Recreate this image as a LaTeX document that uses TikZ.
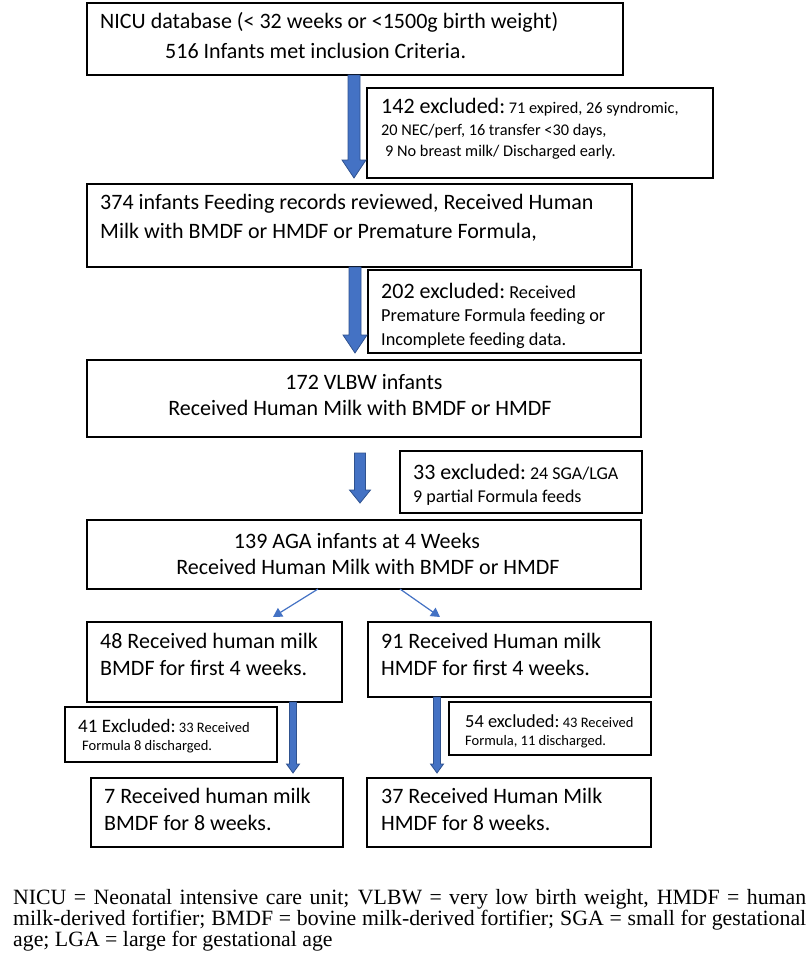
\documentclass[tikz,border=0pt]{standalone}
\usepackage{fontspec}
\setmainfont{Carlito}
\newfontfamily\tnr{Liberation Serif}
\usetikzlibrary{calc,arrows.meta}
\definecolor{arrowfill}{HTML}{4472C4}
\definecolor{arrowedge}{HTML}{2F528F}
\newcommand\fs[1]{\fontsize{#1}{#1}\selectfont}
\newcommand\fatarr[5]{%
  \draw[fill=arrowfill, draw=arrowedge, line width=0.8pt, line join=miter]
    ($(#1)+(-#3,0)$) -- ($(#2)+(-#3,-#5)$) -- ($(#2)+(-#4,-#5)$) -- (#2)
    -- ($(#2)+(#4,-#5)$) -- ($(#2)+(#3,-#5)$) -- ($(#1)+(#3,0)$) -- cycle;}
\begin{document}
\begin{tikzpicture}[x=1pt,y=-1pt,
  box/.style={draw=black, line width=1.3pt, inner sep=0pt, outer sep=0pt, anchor=north west},
  lbl/.style={anchor=base west, inner sep=0pt, font=\fs{22}},
  clbl/.style={anchor=base, inner sep=0pt, font=\fs{22}},
  thinarr/.style={draw=arrowfill, line width=1.2pt, -{Triangle[length=9pt,width=10pt]}},
  foot/.style={anchor=base west, inner sep=0pt, font=\tnr\fs{21.8}}]
\useasboundingbox (0,0) rectangle (810,969);
\fill[white] (0,0) rectangle (810,969);

% boxes
\node[box, minimum width=536, minimum height=72] (b1) at (87,3) {};
\node[box, minimum width=346, minimum height=90] (b2) at (367,88) {};
\node[box, minimum width=545, minimum height=83] (b3) at (87,184) {};
\node[box, minimum width=273, minimum height=83] (b4) at (368,270) {};
\node[box, minimum width=554, minimum height=77] (b5) at (87,360) {};
\node[box, minimum width=242, minimum height=62] (b6) at (400,451) {};
\node[box, minimum width=554, minimum height=69] (b7) at (87,520) {};
\node[box, minimum width=255, minimum height=80] (b8) at (87,622) {};
\node[box, minimum width=283, minimum height=75] (b9) at (368,622) {};
\node[box, minimum width=212, minimum height=55] (b10) at (65,707) {};
\node[box, minimum width=202, minimum height=53] (b11) at (449,702) {};
\node[box, minimum width=252, minimum height=69] (b12) at (91,778) {};
\node[box, minimum width=284, minimum height=69] (b13) at (367,778) {};

% texts
\node[lbl] (t1a) at (100,28) {NICU database (< 32 weeks or <1500g birth weight)};
\node[lbl] (t1b) at (165,58) {516 Infants met inclusion Criteria.};

\node[lbl] (t2a) at (381,113) {142 excluded:{\fs{16.3}\ 71 expired, 26 syndromic,}};
\node[lbl, font=\fs{16.3}] (t2b) at (381,135) {20 NEC/perf, 16 transfer <30 days,};
\node[lbl, font=\fs{16.3}] (t2c) at (385,156) {9 No breast milk/ Discharged early.};

\node[lbl] (t3a) at (100,209) {374 infants Feeding records reviewed, Received Human};
\node[lbl] (t3b) at (100,238) {Milk with BMDF or HMDF or Premature Formula,};

\node[lbl] (t4a) at (381,298) {202 excluded:{\fs{18.3}\ Received}};
\node[lbl, font=\fs{18.3}] (t4b) at (381,321) {Premature Formula feeding or};
\node[lbl, font=\fs{18.3}] (t4c) at (381,345) {Incomplete feeding data.};

\node[clbl] (t5a) at (364,389) {172 VLBW infants};
\node[clbl] (t5b) at (360,415) {Received Human Milk with BMDF or HMDF};

\node[lbl] (t6a) at (413,479) {33 excluded:{\fs{18}\ 24 SGA/LGA}};
\node[lbl, font=\fs{18}] (t6b) at (413,502) {9 partial Formula feeds};

\node[clbl] (t7a) at (357,548) {139 AGA infants at 4 Weeks};
\node[clbl] (t7b) at (368,574) {Received Human Milk with BMDF or HMDF};

\node[lbl] (t8a) at (100,648) {48 Received human milk};
\node[lbl] (t8b) at (100,675) {BMDF for first 4 weeks.};

\node[lbl] (t9a) at (381,648) {91 Received Human milk};
\node[lbl] (t9b) at (381,675) {HMDF for first 4 weeks.};

\node[lbl, font=\fs{19}] (t10a) at (78,732) {41 Excluded:{\fs{14.5}\ 33 Received}};
\node[lbl, font=\fs{14.5}] (t10b) at (82,750) {Formula 8 discharged.};

\node[lbl, font=\fs{18.4}] (t11a) at (465,727) {54 excluded:{\fs{14.5}\ 43 Received}};
\node[lbl, font=\fs{14.5}] (t11b) at (465,745) {Formula, 11 discharged.};

\node[lbl] (t12a) at (104,803) {7 Received human milk};
\node[lbl] (t12b) at (104,830) {BMDF for 8 weeks.};

\node[lbl] (t13a) at (381,803) {37 Received Human Milk};
\node[lbl] (t13b) at (381,830) {HMDF for 8 weeks.};

% footnote
\node[foot] (f1) at (13,904) {\makebox[793pt][s]{NICU = Neonatal intensive care unit; VLBW = very low birth weight, HMDF = human}};
\node[foot] (f2) at (13,925) {\makebox[793pt][s]{milk-derived fortifier; BMDF = bovine milk-derived fortifier; SGA = small for gestational}};
\node[foot] (f3) at (13,946) {age; LGA = large for gestational age};

% connectors
\coordinate (xa) at (354,0);
\coordinate (xb) at (355,0);
\coordinate (xc) at (360,0);
\coordinate (xd) at (293,0);
\coordinate (xe) at (437,0);
\coordinate (xl1) at (318,0);
\coordinate (xl2) at (273,0);
\coordinate (xr1) at (400,0);
\coordinate (xr2) at (440,0);

\coordinate (a1s) at (b1.south -| xa);
\coordinate (a1e) at ($(b3.north -| xa)+(0,-6)$);
\fatarr{a1s}{a1e}{6}{12}{18}
\coordinate (a2s) at (b3.south -| xb);
\coordinate (a2e) at ($(b5.north -| xb)+(0,-7)$);
\fatarr{a2s}{a2e}{6}{12}{18}
\coordinate (a3s) at ($(b5.south -| xc)+(0,16)$);
\coordinate (a3e) at ($(b7.north -| xc)+(0,-17)$);
\fatarr{a3s}{a3e}{5.5}{10.5}{13}
\coordinate (a4s) at (b8.south -| xd);
\coordinate (a4e) at ($(b12.north -| xd)+(0,-5)$);
\fatarr{a4s}{a4e}{3.5}{6.5}{9}
\coordinate (a5s) at (b9.south -| xe);
\coordinate (a5e) at ($(b13.north -| xe)+(0,-5)$);
\fatarr{a5s}{a5e}{3.5}{6.5}{9}

\coordinate (l1) at (b7.south -| xl1);
\coordinate (l2) at ($(b8.north -| xl2)+(0,-5)$);
\draw[thinarr] (l1) -- (l2);
\coordinate (r1) at (b7.south -| xr1);
\coordinate (r2) at ($(b9.north -| xr2)+(0,-5)$);
\draw[thinarr] (r1) -- (r2);
\end{tikzpicture}
\end{document}
